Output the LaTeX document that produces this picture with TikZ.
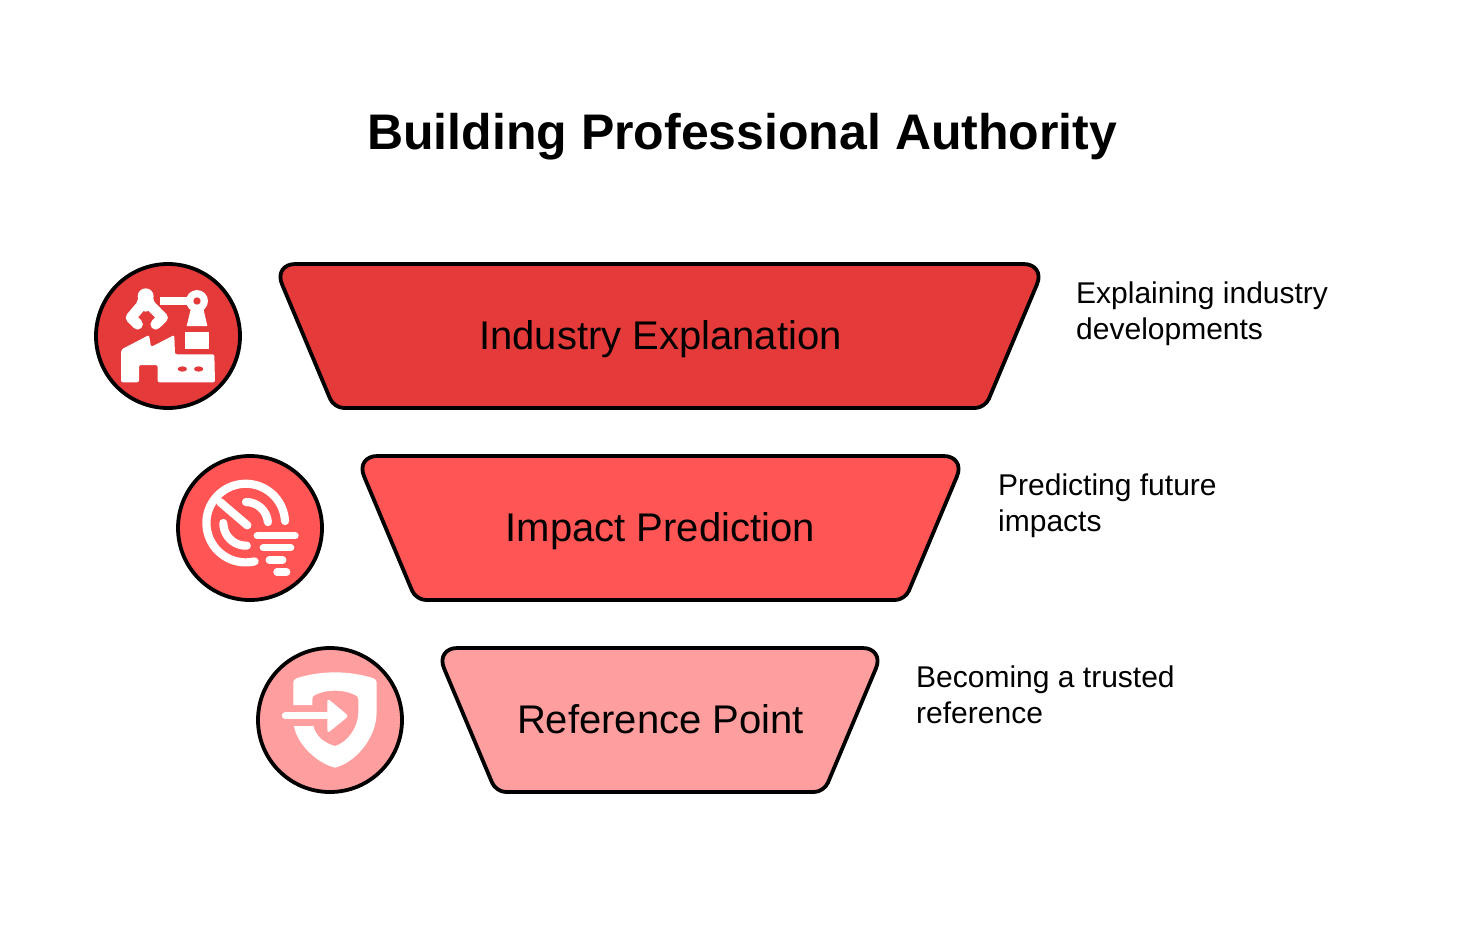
\documentclass[tikz,border=0pt]{standalone}
\usepackage{fontspec}
\setmainfont{Liberation Sans}
\definecolor{cA}{HTML}{E53A3A}
\definecolor{cB}{HTML}{FF5555}
\definecolor{cC}{HTML}{FF9E9E}
\tikzset{
  x=1pt,y=1pt,
  tier/.style={draw=black,line width=3.8pt,line join=round},
  disc/.style={circle,draw=black,line width=3.8pt,minimum size=144pt,inner sep=0pt},
  tierlabel/.style={font=\fontsize{40}{46}\selectfont,text=black,inner sep=0pt,anchor=base},
  note/.style={font=\fontsize{30}{36}\selectfont,text=black,align=left,inner sep=0pt,anchor=base west},
  titletext/.style={font=\fontsize{50}{56}\bfseries\selectfont,text=black,inner sep=0pt,anchor=base},
  glyph/.style={white,line cap=round,line join=round},
}
\begin{document}
\begin{tikzpicture}
\useasboundingbox (0,0) rectangle (1482,-936);
\node[titletext] (title) at (742.3,-150) {Building Professional Authority};

% tiers
\draw[tier,fill=cA] (660,-264) [rounded corners=22pt] -- (1045.5,-264) [rounded corners=10pt] -- (985,-408) -- (334,-408) [rounded corners=22pt] -- (273.5,-264) -- cycle;
\draw[tier,fill=cB] (660,-456) [rounded corners=22pt] -- (965.5,-456) [rounded corners=10pt] -- (905,-600) -- (416,-600) [rounded corners=22pt] -- (355.5,-456) -- cycle;
\draw[tier,fill=cC] (660,-648) [rounded corners=22pt] -- (884.5,-648) [rounded corners=10pt] -- (824,-792) -- (496,-792) [rounded corners=22pt] -- (435.5,-648) -- cycle;
\node[tierlabel] (t1) at (660.5,-349.5) {Industry Explanation};
\node[tierlabel] (t2) at (660.3,-541.5) {Impact Prediction};
\node[tierlabel] (t3) at (660.5,-733.5) {Reference Point};

% notes
\node[note] (n1) at (1076,-339) {Explaining industry\\developments};
\node[note] (n2) at (998,-531) {Predicting future\\impacts};
\node[note] (n3) at (916,-723) {Becoming a trusted\\reference};

% discs
\node[disc,fill=cA] (d1) at (168,-336) {};
\node[disc,fill=cB] (d2) at (250,-528) {};
\node[disc,fill=cC] (d3) at (330,-720) {};

% icon 1
\begin{scope}[shift={(85,-255)},xscale=1/3,yscale=-1/3]
  \fill[white,rounded corners=2pt] (108,284) -- (192,240) -- (198,276) -- (268,240) -- (270,298) -- (388,298) -- (390,382) -- (218,382) -- (218,330) -- (162,330) -- (162,382) -- (108,382) -- cycle;
  \fill[cA] (292,342) ellipse [x radius=14,y radius=8];
  \fill[cA] (341,342) ellipse [x radius=14,y radius=8];
  \fill[white] (300,232) rectangle (372,282);
  \fill[white] (336,138) circle [radius=33];
  \fill[cA] (336,138) circle [radius=11];
  \fill[white] (225,126) rectangle (312,150);
  \fill[white] (318,160) -- (305,213) -- (367,213) -- (355,160) -- cycle;
  \draw[glyph,line width=10.5pt] (170,150) -- (138,188) -- (158,208);
  \draw[glyph,line width=10.5pt] (195,150) -- (233,188) -- (212,208);
  \fill[white] (182,124) circle [radius=24];
  \fill[white] (160,128) -- (204,128) -- (215,160) -- (182,170) -- (150,160) -- cycle;
\end{scope}

% icon 2
\begin{scope}[shift={(170,-447)},xscale=1/3,yscale=-1/3]
  \draw[glyph,line width=8.2pt] (345,222) arc [start angle=-3,end angle=-283,radius=118];
  \draw[glyph,line width=8.2pt] (150,165) -- (232,235);
  \draw[glyph,line width=8.2pt] (228,165) arc [start angle=-90,end angle=-5,radius=66];
  \draw[glyph,line width=8.2pt] (160,228) arc [start angle=-180,end angle=-272,radius=68];
  \draw[glyph,line width=7.4pt] (262,266) -- (375,266);
  \draw[glyph,line width=7.4pt] (280,302) -- (362,302);
  \draw[glyph,line width=7.4pt] (298,339) -- (338,339);
  \draw[glyph,line width=7.4pt] (321,375) -- (350,375);
\end{scope}

% icon 3
\begin{scope}[shift={(250,-640)},xscale=1/3,yscale=-1/3]
  \fill[white] (130,195) -- (130,130) .. controls (130,120) and (135,116) .. (145,113)
    .. controls (185,101) and (225,97) .. (255,97)
    .. controls (285,97) and (325,101) .. (365,113)
    .. controls (375,116) and (380,120) .. (380,130)
    -- (380,215) .. controls (380,300) and (310,370) .. (255,383)
    .. controls (200,370) and (140,310) .. (132,258)
    -- (190,258) .. controls (198,290) and (225,310) .. (255,318)
    .. controls (290,308) and (325,265) .. (325,215)
    -- (325,178) .. controls (325,170) and (320,167) .. (315,165)
    .. controls (295,155) and (275,152) .. (255,152)
    .. controls (235,152) and (215,155) .. (195,165)
    .. controls (189,168) and (187,170) .. (187,178)
    -- (187,195) -- cycle;
  \draw[glyph,line width=7pt] (106,227) -- (240,227);
  \fill[white,rounded corners=3pt] (232,175) -- (296,228) -- (232,280) -- cycle;
\end{scope}
\end{tikzpicture}
\end{document}
